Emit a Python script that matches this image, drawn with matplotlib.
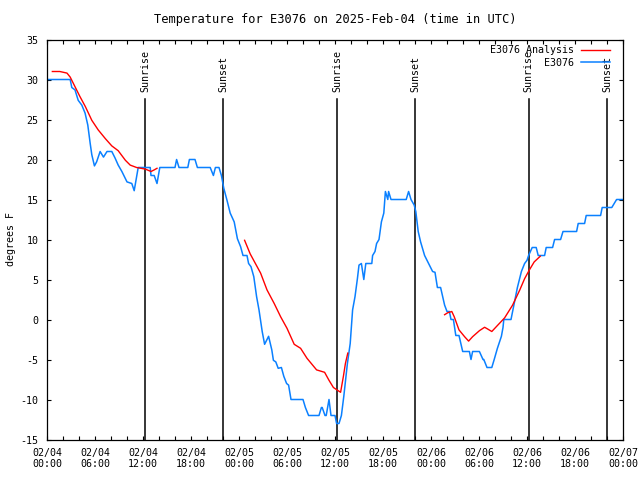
import numpy as np
import matplotlib
matplotlib.use("Agg")
import matplotlib.pyplot as plt
from matplotlib.ticker import MultipleLocator

# observed temperature, hours since 2025-02-04 00:00 UTC
obs_hours = [0, 2.9, 3.1, 3.5, 3.9, 4.35, 4.76, 5.1, 5.4, 5.6, 5.93, 6.2, 6.64, 7.06, 7.5, 8.1, 8.5, 8.9,
             9.36, 10.0, 10.6, 10.9, 11.4, 12.9, 13.0, 13.4, 13.75, 14.1, 16.0, 16.2, 16.5, 17.6, 17.8, 18.5,
             18.8, 20.4, 20.8, 21.05, 21.5, 21.8, 22.1, 22.5, 22.9, 23.4, 23.8, 24.2, 24.5, 25.0, 25.2, 25.5,
             25.85, 26.2, 26.5, 26.9, 27.2, 27.7, 28.1, 28.3, 28.6, 28.9, 29.3, 29.6, 29.95, 30.2, 30.5, 32.0,
             32.3, 32.7, 34.0, 34.3, 34.4, 34.75, 34.9, 35.25, 35.5, 36.0, 36.2, 36.5, 36.8, 37.1, 37.55, 37.9,
             38.2, 38.5, 38.8, 39.0, 39.3, 39.6, 39.85, 40.6, 40.7, 41.0, 41.2, 41.5, 41.8, 42.1, 42.3, 42.6,
             42.7, 43.0, 44.9, 45.2, 45.5, 45.9, 46.1, 46.4, 46.7, 47.2, 47.6, 48.2, 48.5, 48.8, 49.2, 49.7,
             50.0, 50.3, 50.5, 50.8, 51.1, 51.5, 51.96, 52.8, 53.0, 53.2, 54.05, 54.5, 54.6, 55.0, 55.6, 55.9,
             56.3, 56.8, 57.0, 57.1, 58.0, 58.4, 58.8, 59.3, 59.7, 60.0, 60.2, 60.65, 61.15, 61.4, 62.2, 62.4,
             63.2, 63.45, 64.2, 64.5, 66.2, 66.4, 67.2, 67.4, 69.2, 69.4, 70.6, 71.2, 72]
obs_temp = [30, 30, 29, 28.7, 27.4, 26.8, 25.8, 24.3, 22, 20.6, 19.2, 19.7, 21, 20.3, 21, 21, 20.2, 19.3,
            18.5, 17.2, 17, 16.1, 19, 19, 18, 18, 17, 19, 19, 20, 19, 19, 20, 20,
            19, 19, 18, 19, 19, 18, 16.4, 14.9, 13.3, 12.2, 10.1, 9.1, 8, 8, 7, 6.6,
            5.35, 2.85, 1.2, -1.5, -3.1, -2.1, -3.8, -5.1, -5.3, -6.1, -6, -7.1, -8, -8.2, -10, -10,
            -11, -12, -12, -11, -11, -12, -12, -10, -12, -12, -13, -13, -12, -9.6, -5.5, -3,
            1.2, 2.85, 5.1, 6.8, 7, 5, 7, 7, 8, 8.5, 9.5, 10, 12.2, 13.3, 16, 15,
            16, 15, 15, 16, 15, 14.3, 13.5, 11, 9.7, 8, 7.2, 6, 5.9, 4, 4, 1.8,
            1, 1, 0, 0, -2, -2, -4, -4, -5, -4, -4, -5, -5, -6, -6, -5,
            -3.6, -2.1, -1, 0, 0, 2, 4, 6, 7, 7.4, 8, 9, 9, 8, 8, 9,
            9, 10, 10, 11, 11, 12, 12, 13, 13, 14, 14, 15, 15]

# analysis temperature, three runs separated by gaps
ana_hours = [0.67, 1.6, 2.5, 2.9, 3.5, 4.1, 4.8, 5.6, 6.4, 7.3, 8.1, 8.9, 9.8, 10.4, 11.2, 12.3, 13.0, 13.4, 13.75,
             np.nan,
             24.7, 25.4, 26.7, 27.5, 28.4, 29.2, 30.0, 30.9, 31.7, 32.5, 33.7, 34.7, 35.25, 35.8, 36.4, 36.7,
             37.05, 37.3, 37.6,
             np.nan,
             49.7, 50.1, 50.6, 50.9, 51.5, 52.2, 52.7, 53.2, 54.05, 54.7, 55.1, 55.6, 56.35, 57.2, 58.2, 59.1,
             59.7, 60.3, 60.9, 61.65]
ana_temp = [31, 31, 30.8, 30.3, 29.1, 27.9, 26.6, 24.9, 23.7, 22.6, 21.7, 21.1, 19.9, 19.3, 19.0, 18.8, 18.5, 18.7, 18.9,
            np.nan,
            9.9, 8.2, 5.8, 3.7, 2.0, 0.35, -1.1, -3.1, -3.6, -4.85, -6.3, -6.6, -7.6, -8.5, -8.9, -9.1,
            -7.1, -5.5, -4.2,
            np.nan,
            0.6, 0.85, 1.0, 0.35, -1.3, -2.15, -2.7, -2.15, -1.4, -0.97, -1.2, -1.5, -0.7, 0.2, 1.8, 3.7,
            5.1, 6.2, 7.2, 7.9]

sun_hours = [12.25, 22.0, 36.25, 46.0, 60.2, 70.0]
sun_labels = ["Sunrise", "Sunset", "Sunrise", "Sunset", "Sunrise", "Sunset"]

tick_hours = [0, 6, 12, 18, 24, 30, 36, 42, 48, 54, 60, 66, 72]
tick_labels = ["02/04\n00:00", "02/04\n06:00", "02/04\n12:00", "02/04\n18:00",
               "02/05\n00:00", "02/05\n06:00", "02/05\n12:00", "02/05\n18:00",
               "02/06\n00:00", "02/06\n06:00", "02/06\n12:00", "02/06\n18:00",
               "02/07\n00:00"]

plt.rcParams['font.family'] = ['DejaVu Sans Mono']
plt.rcParams['font.size'] = 7.2
plt.rcParams['axes.unicode_minus'] = False

fig = plt.figure(figsize=(6.4, 4.8), dpi=100)
ax = fig.add_axes([47 / 640, 1 - 439.5 / 480, 576 / 640, 400 / 480])

for h, lab in zip(sun_hours, sun_labels):
    ax.plot([h, h], [-15, 27.6], color='black', lw=1.1)
    ax.text(h, 28.4, lab, rotation=90, ha='center', va='bottom')

obs_line, = ax.plot(obs_hours, obs_temp, color='#0a80ff', lw=1.1)
ana_line, = ax.plot(ana_hours, ana_temp, color='#ff0000', lw=1.0)

ax.set_xlim(0, 72)
ax.set_ylim(-15, 35)
ax.set_xticks(tick_hours)
ax.set_xticklabels(tick_labels)
ax.xaxis.set_minor_locator(MultipleLocator(2))
ax.yaxis.set_major_locator(MultipleLocator(5))
ax.tick_params(which='both', direction='in', top=True, right=True, length=3, width=0.8)
ax.tick_params(axis='x', pad=6)
ax.tick_params(axis='y', pad=6)
for s in ax.spines.values():
    s.set_linewidth(0.9)

ax.set_ylabel("degrees F", labelpad=3)
ax.set_title("Temperature for E3076 on 2025-Feb-04 (time in UTC)", pad=12)

ax.legend([ana_line, obs_line], ["E3076 Analysis", "E3076"], loc='upper right',
          bbox_to_anchor=(610 / 640, 1 - 45 / 480), bbox_transform=fig.transFigure,
          frameon=False, markerfirst=False, handlelength=2.9, handletextpad=0.7,
          labelspacing=0.25, borderaxespad=0, borderpad=0)

fig.savefig("out.png", dpi=100)
